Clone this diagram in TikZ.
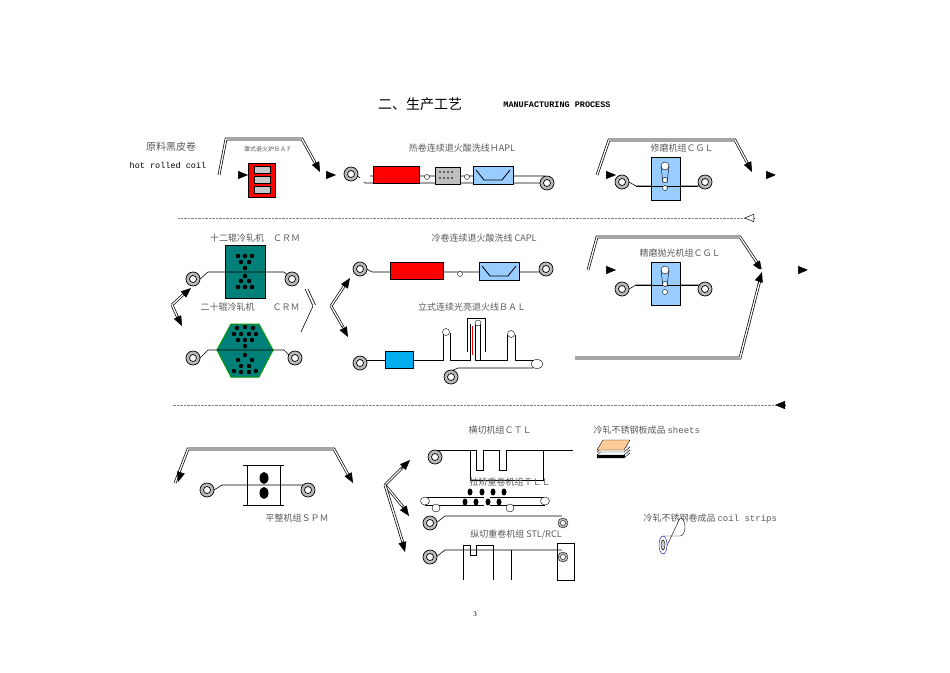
\documentclass[tikz,border=0pt]{standalone}
\usepackage{fontspec}
\setmainfont{Liberation Serif}
\newfontfamily\cjk{Noto Sans CJK SC}
\newfontfamily\mono{Liberation Mono}
\usetikzlibrary{arrows.meta}
\definecolor{teal2}{RGB}{0,128,120}
\definecolor{lblue}{RGB}{153,204,255}
\definecolor{txt}{RGB}{90,90,90}
\newcommand\coilA[2]{\draw[fill=gray!55,line width=0.7pt] (#1,#2) circle (7); \draw[fill=white,line width=0.7pt] (#1,#2) circle (3.5);}
\newcommand\coilS[2]{\draw[fill=gray!55] (#1,#2) circle (5); \draw[fill=white] (#1,#2) circle (2.5);}
\newcommand\arh[2]{\draw[line width=0.5pt,-{Triangle[length=10pt,width=8pt]}] #1 -- #2;}
\begin{document}
\begin{tikzpicture}[x=1pt,y=-1pt,
 dbl/.style={double=white,double distance=1.3pt,line width=0.7pt},
 lab/.style={font=\cjk\fontsize{9}{10}\selectfont,text=txt},
 strip/.style={line width=0.6pt}]
\useasboundingbox (0,0) rectangle (950,672);
\fill[white] (0,0) rectangle (950,672);
\node[font=\cjk\fontsize{14}{16}\selectfont] at (420,104) {二、生产工艺};
\node[font=\mono\bfseries\fontsize{8.5}{10}\selectfont] at (557,105) {MANUFACTURING PROCESS};
% ---- row 1
\node[lab,font=\cjk\fontsize{10}{11}\selectfont] at (171,147) {原料黑皮卷};
\node[font=\mono\fontsize{8.5}{10}\selectfont] at (168,165) {hot rolled coil};
\draw[dbl] (135,175) -- (240,175); \arh{(238,175)}{(248,175)}
\draw[dbl] (219,175) -- (226,139) -- (302,139) -- (318,168); \arh{(315,162)}{(320,172)}
\node[font=\cjk\fontsize{6}{7}\selectfont,text=txt] at (268,149) {罩式退火炉ＢＡＦ};
\draw[fill=red] (248,163) rectangle (275,197);
\foreach \y in {166,176,186} \draw[fill=gray!45] (254,\y) rectangle (270,\y+7);
\draw[dbl] (285,175) -- (328,175); \arh{(326,175)}{(336,175)}
\node[lab] at (462,148) {热卷连续退火酸洗线ＨAPL};
\coilA{351}{174}
\draw[strip] (358,176) -- (365,183) -- (540,183);
\draw[strip] (370,176) -- (545,176) -- (553,183);
\fill[white] (360,177) rectangle (560,182.4);
\draw[fill=red] (373,166) rectangle (419,183);
\draw[fill=white] (427,177) circle (2.5); \draw[fill=white] (467,177) circle (2.5);
\draw[fill=gray!50] (435,167) rectangle (460,184);
\foreach \i in {0,1,2,3} {\fill (440+\i*4,172) circle (0.9); \fill (440+\i*4,178) circle (0.9);}
\draw[fill=lblue] (473,166) rectangle (513,184);
\draw[line width=0.8pt] (476,170) -- (484,180) -- (502,180) -- (510,170);
\coilA{547}{183}
\draw[dbl] (562,175) -- (608,175); \arh{(606,175)}{(616,175)}
\draw[dbl] (597,175) -- (609,140) -- (735,140) -- (750,168); \arh{(747,162)}{(752,172)}
\node[lab] at (682,148) {修磨机组ＣＧＬ};
\draw[strip] (629,182) -- (636,186) -- (700,186);
\draw[fill=lblue] (651,157) rectangle (680,200);
\draw[strip] (636,186) -- (698,186);
\draw[fill=white] (665,166) circle (4); \draw (661,166) -- (663,183); \draw (669,166) -- (667,183);
\draw[fill=white] (665,180) circle (2.5); \draw[fill=white] (665,188) circle (2.5);
\coilA{622}{182}\coilA{705}{182}
\draw[dbl] (728,175) -- (768,175); \arh{(766,175)}{(776,175)}
\draw[dbl] (776,175) -- (776,218) -- (755,218);
\draw[line width=0.5pt,-{Triangle[open,length=10pt,width=8pt]}] (755,218) -- (744,218);
\draw[densely dotted,gray] (744,218) -- (178,218);
\draw[dbl] (178,218) -- (143,218) -- (143,305) -- (172,305);
\draw[dbl] (172,305) -- (185,293); \arh{(184,294)}{(191,288)}
\draw[dbl] (172,305) -- (178,318); \arh{(177,316)}{(182,326)}
% ---- row 2
\node[lab] at (255,238) {十二辊冷轧机　ＣＲＭ};
\draw[fill=teal2] (225,245) rectangle (265,298);
\draw[strip] (200,279) -- (208,272) -- (284,272) -- (292,279);
\foreach \p in {(238,256),(245,256),(252,256),(241,262),(249,262),(245,268),(245,276),(241,281),(249,281),(238,287),(245,287),(252,287)} \fill \p circle (2.3);
\coilA{193}{279}\coilA{292}{279}
\node[lab] at (250,307) {二十辊冷轧机　　ＣＲＭ};
\draw[fill=teal2,draw=green!60!black,line width=1pt] (231,324) -- (259,324) -- (273,350) -- (259,377) -- (231,377) -- (217,350) -- cycle;
\draw[strip] (200,358) -- (208,350) -- (284,350) -- (292,358);
\foreach \p in {(237,328),(245,327),(253,328),(234,334),(241,334),(249,334),(256,334),(238,340),(245,340),(252,340),(245,346),(245,355),(238,360),(252,360),(241,366),(249,366),(234,371),(241,372),(249,372),(256,371)} \fill \p circle (2.2);
\coilA{193}{358}\coilA{295}{358}
\draw[line width=0.6pt] (305,289) -- (313,306) -- (301,332);
\draw[line width=0.6pt] (308,289) -- (316,306);
\draw[dbl] (313,306) -- (331,306);
\draw[dbl] (331,306) -- (345,285); \arh{(344,287)}{(350,278)}
\draw[dbl] (331,306) -- (343,327); \arh{(342,326)}{(348,337)}
\node[lab] at (484,238) {冷卷连续退火酸洗线 CAPL};
\coilA{360}{269}
\draw[strip] (367,269) -- (372,272) -- (540,272);
\draw[fill=red] (390,262) rectangle (443,279);
\draw[fill=white] (460,274) circle (2.5);
\draw[fill=lblue] (479,262) rectangle (519,280);
\draw[line width=0.8pt] (482,266) -- (490,276) -- (508,276) -- (516,266);
\coilA{546}{269}
\draw[dbl] (562,270) -- (608,270); \arh{(606,270)}{(616,270)}
\draw[dbl] (588,270) -- (597,237) -- (740,237) -- (758,264); \arh{(756,262)}{(762,271)}
\node[lab] at (680,253) {精磨抛光机组ＣＧＬ};
\draw[strip] (629,289) -- (636,285) -- (700,285);
\draw[fill=lblue] (651,262) rectangle (680,305);
\draw[strip] (636,285) -- (698,285);
\draw[fill=white] (665,270) circle (4); \draw (661,270) -- (663,286); \draw (669,270) -- (667,286);
\draw[fill=white] (665,284) circle (2.5); \draw[fill=white] (665,292) circle (2.5);
\coilA{622}{289}\coilA{705}{289}
\draw[dbl] (728,270) -- (800,270); \arh{(798,270)}{(808,270)}
\draw[dbl] (808,270) -- (808,405) -- (786,405);
\arh{(786,405)}{(775,405)}
\draw[dbl] (575,358) -- (740,358) -- (760,280); \arh{(758,284)}{(762,272)}
\node[lab] at (472,307) {立式连续光亮退火线ＢＡＬ};
\coilA{360}{363}
\draw[strip] (367,360) -- (443,360) -- (443,333) (450,333) -- (450,360) -- (470,360) -- (470,324) (475,324) -- (475,360) -- (507,360) -- (507,335) (515,335) -- (515,360) -- (533,360);
\draw[strip] (451,371) -- (458,368) -- (533,368);
\draw[fill=white] (446,332) circle (3.5); \draw[fill=white] (511,334) circle (3.5);
\draw[strip] (467,352) -- (467,318) -- (485,318) -- (485,352);
\draw[strip] (480,324) -- (480,360);
\draw[red,line width=0.7pt] (472,326) -- (472,355);
\draw[fill=white] (478,323) circle (3);
\draw[fill=white] (537,364) ellipse (6 and 4.5);
\draw[fill=cyan] (385,351) rectangle (413,368);
\coilA{451}{377}
% ---- row 3
\draw[densely dotted,gray] (775,405) -- (172,405);
\draw[dbl] (172,405) -- (140,405) -- (140,483) -- (172,483);
\draw[dbl] (175,483) -- (188,449) -- (334,449) -- (350,478); \arh{(181,472)}{(178,482)}
\arh{(348,474)}{(353,483)}
\draw[dbl] (352,485) -- (385,485);
\draw[dbl] (385,485) -- (403,467); \arh{(401,469)}{(410,460)}
\draw[dbl] (385,485) -- (404,508); \arh{(402,506)}{(409,516)}
\draw[dbl] (385,485) -- (403,543); \arh{(402,541)}{(405,552)}
\draw[strip] (214,490) -- (222,485) -- (303,485);
\draw (247,465) -- (247,505) (280,465) -- (280,505) (243,465) -- (284,465) (243,505) -- (284,505);
\fill (264,478) ellipse (4.5 and 6); \fill (264,493) ellipse (4.5 and 6);
\coilA{207}{490}\coilA{308}{490}
\node[lab] at (297,518) {平整机组ＳＰＭ};
\node[lab] at (500,430) {横切机组ＣＴＬ};
\draw[strip] (435,450) -- (476,450) -- (476,470) -- (483,470) -- (483,450) -- (499,450) -- (499,470) -- (506,470) -- (506,450) -- (573,450);
\draw[strip] (476,450) (470,450) -- (470,480) -- (543,480) -- (543,450);
\coilA{435}{457}
\node[lab,anchor=west] at (590,430) {冷轧不锈钢板成品 \mono sheets};
\foreach \d in {8,5,2} \draw[fill=white] (597,450+\d) -- (624,450+\d) -- (630,445+\d) -- (603,445+\d) -- cycle;
\draw[fill=orange!40] (597,450) -- (624,450) -- (630,440) -- (603,440) -- cycle;
\draw[fill=black] (597,455) -- (624,455) -- (624,457) -- (597,457) -- cycle;
\node[lab] at (510,482) {拉矫重卷机组ＴＬＬ};
\draw[strip] (436,523) -- (445,516) -- (562,516);
\draw[strip] (425,497) -- (484,497) (425,505) -- (484,505) (490,497) -- (545,497) (490,505) -- (545,505);
\foreach \x in {425,545} \draw[fill=white] (\x,501) ellipse (4.5 and 4);
\foreach \x in {436,510} \draw[fill=white] (\x,508) circle (4);
\foreach \x in {470,482,493,504} \fill (\x,492) ellipse (2.5 and 3.5);
\foreach \x in {465,476,488,499} \fill (\x,502) ellipse (2.5 and 3.5);
\coilA{430}{523}\coilS{563}{523}
\node[lab,anchor=west] at (640,519) {冷轧不锈钢卷成品 \mono coil strips};
\draw[fill=white] (663,536) -- (680,536) arc (90:-90:5 and 9) -- (663,554);
\draw[fill=white,draw=blue!60!black] (663,545) ellipse (4 and 9);
\draw[fill=gray!40] (663,545) ellipse (2 and 5);
\node[lab] at (516,535) {纵切重卷机组 STL/RCL};
\draw[strip] (436,557) -- (445,550) -- (562,550);
\draw[strip] (463,580) -- (463,545) -- (470,545) -- (470,555) -- (476,555) -- (476,545) -- (493,545) -- (493,580) (511,580) -- (511,550);
\draw[strip] (557,580) -- (557,543) -- (574,543) -- (574,580) -- (557,580);
\coilA{430}{557}\coilS{563}{557}
\node[font=\fontsize{7}{8}\selectfont] at (475,614) {3};
\end{tikzpicture}
\end{document}
